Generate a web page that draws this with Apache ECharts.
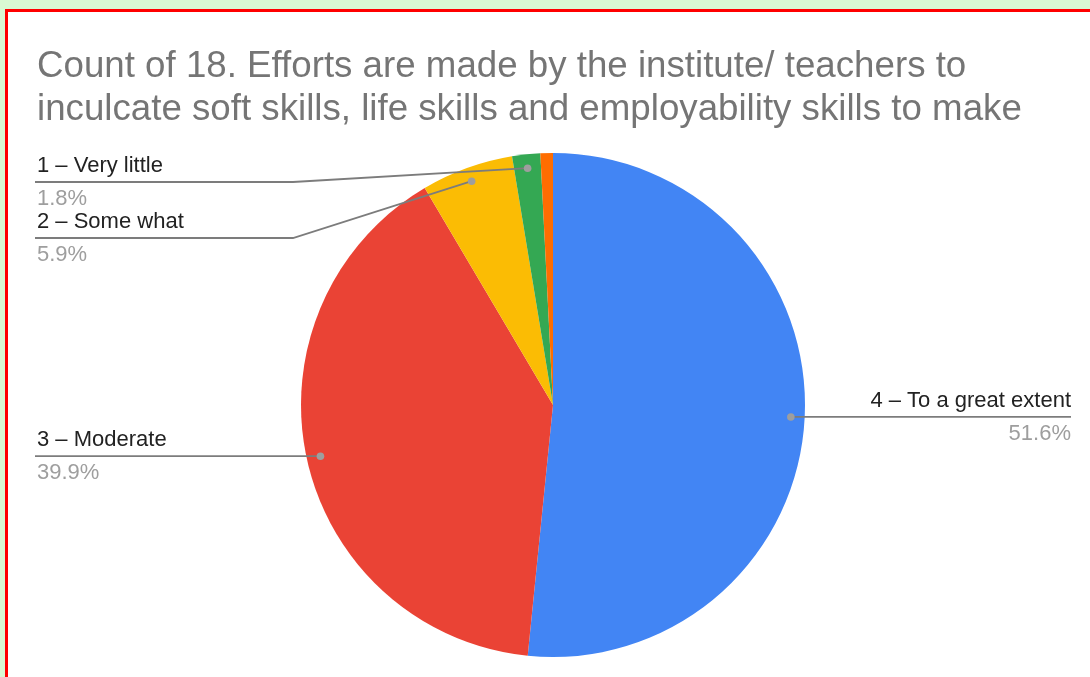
<!DOCTYPE html>
<html><head><meta charset="utf-8">
<script src="https://cdn.jsdelivr.net/npm/echarts@6/dist/echarts.min.js"></script>
<style>
html,body{margin:0;padding:0;width:1090px;height:677px;overflow:hidden;background:#d9f9d3;}
#box{position:absolute;left:5px;top:9px;width:1200px;height:800px;border:3px solid #ff0000;background:#fff;}
#chart{position:absolute;left:0;top:0;width:1090px;height:677px;}
</style></head><body>
<div id="box"></div><div id="chart"></div>
<script>
const titleLines = ['Count of 18. Efforts are made by the institute/ teachers to',
                    'inculcate soft skills, life skills and employability skills to make'];
const categories = ['4 – To a great extent', '3 – Moderate', '2 – Some what', '1 – Very little', '(blank)'];
const shares = [51.6, 39.9, 5.9, 1.8, 0.8];
const colors = ['#4285f4', '#ea4335', '#fbbc04', '#34a853', '#ff6d01'];
const labelled = [true, true, true, true, false];

const FONT = 'Arial, "Liberation Sans", sans-serif';
const DOT_FRAC = 0.945, LEFT_X = 35, RIGHT_X = 1071, ELBOW_X = 293, GAP = 56, ROW = 33;

const chart = echarts.init(document.getElementById('chart'), null, {renderer: 'canvas'});
const seriesData = categories.map((c, i) => ({
  name: c, value: shares[i],
  itemStyle: {color: colors[i]},
  label: {show: labelled[i]}
}));
chart.setOption({
  animation: false,
  title: {
    text: titleLines.join('\n'), left: 37, top: 45, padding: 0,
    textStyle: {fontSize: 36.7, lineHeight: 43, color: '#757575', fontWeight: 'normal', fontFamily: FONT}
  },
  series: [{
    type: 'pie', center: [553, 405], radius: 252, startAngle: 90, clockwise: true,
    avoidLabelOverlap: false, emphasis: {disabled: true}, silent: true,
    itemStyle: {borderWidth: 0},
    label: {
      position: 'outside', fontFamily: FONT, overflow: 'none',
      formatter: p => '{n|' + p.name + '}\n{p|' + p.value.toFixed(1) + '%}',
      rich: {
        n: {fontSize: 22, color: '#222222', lineHeight: ROW, fontFamily: FONT},
        p: {fontSize: 22, color: '#9e9e9e', lineHeight: ROW, fontFamily: FONT}
      }
    },
    labelLine: {show: false},
    data: seriesData
  }]
});

// read the library's slice layout to place leader lines and dots
const data = chart.getModel().getSeriesByIndex(0).getData();
const info = [];
for (let i = 0; i < categories.length; i++) {
  const L = data.getItemLayout(i);
  const mid = (L.startAngle + L.endAngle) / 2;
  info[i] = {
    dot: [L.cx + L.r * DOT_FRAC * Math.cos(mid), L.cy + L.r * DOT_FRAC * Math.sin(mid)],
    right: Math.cos(mid) > 0, top: L.cy - L.r
  };
}
const leftIdx = info.map((d, i) => i).filter(i => labelled[i] && !info[i].right)
  .sort((a, b) => info[a].dot[1] - info[b].dot[1]);
let prev = -Infinity;
leftIdx.forEach(i => {
  const y = Math.max(info[i].dot[1], info[i].top + 29, prev + GAP);
  info[i].lineY = y; prev = y;
});
info.forEach(d => { if (d.right) d.lineY = d.dot[1]; });
info.forEach((d, i) => {
  if (!labelled[i]) return;
  if (d.right) d.pts = [d.dot, [RIGHT_X, d.lineY]];
  else if (Math.abs(d.lineY - d.dot[1]) < 0.5) d.pts = [d.dot, [LEFT_X, d.lineY]];
  else d.pts = [d.dot, [ELBOW_X, d.lineY], [LEFT_X, d.lineY]];
});

const guides = [];
info.forEach((d, i) => {
  if (!labelled[i]) return;
  guides.push({type: 'polyline', z: 100, silent: true,
    shape: {points: d.pts}, style: {stroke: '#7c7c7c', lineWidth: 1.8, fill: null}});
  guides.push({type: 'circle', z: 101, silent: true,
    shape: {cx: d.dot[0], cy: d.dot[1], r: 3.8}, style: {fill: '#9e9e9e'}});
});

chart.setOption({
  series: [{
    labelLayout: function (params) {
      const d = info[params.dataIndex];
      if (!d || !labelled[params.dataIndex]) return {};
      if (d.right) return {x: RIGHT_X, y: d.lineY, align: 'right', verticalAlign: 'middle'};
      return {x: LEFT_X + 2, y: d.lineY, align: 'left', verticalAlign: 'middle'};
    }
  }],
  graphic: guides
});
</script>
</body></html>
